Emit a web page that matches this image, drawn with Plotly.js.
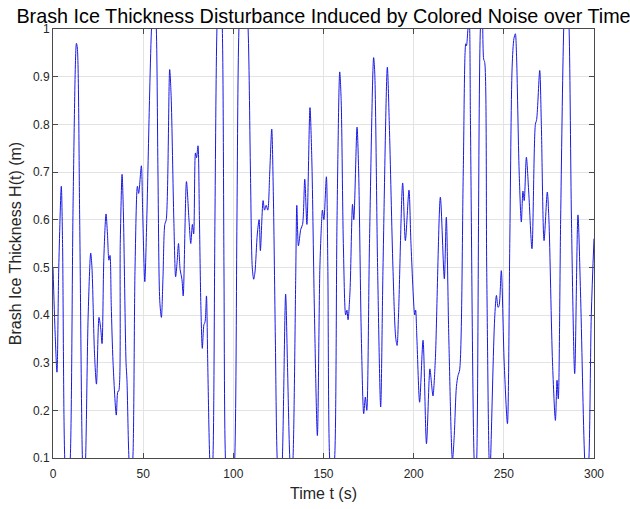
<!DOCTYPE html>
<html>
<head>
<meta charset="utf-8">
<script src="https://cdn.plot.ly/plotly-3.0.1.min.js"></script>
<style>
html,body{margin:0;padding:0;background:#fff;}
#chart{width:630px;height:509px;}
</style>
</head>
<body>
<div id="chart"></div>
<script>
// Time (s) and brash ice thickness H(t) (m)
const timeS = [0,1.2,2.2,3.2,4.6,5.3,6.5,8.0,9.6,11.2,13.0,13.5,14.8,16.3,17.2,18.1,19.5,20.9,21.6,23.0,24.1,25.5,26.5,27.2,28.2,29.4,30.2,31.0,31.6,32.3,33.3,35.1,36.0,36.4,37.3,38.3,39.0,40.5,41.0,42.1,43.2,44.3,45.5,46.8,47.5,49.0,49.7,50.9,52.0,53.5,54.6,56.0,57.3,58.2,59.2,60.1,61.0,62.0,62.8,64.7,65.5,67.0,68.0,68.8,69.6,70.5,71.5,72.2,74.0,75.4,76.4,77.3,78.0,79.0,79.6,80.4,81.2,82.0,82.8,83.7,84.3,85.1,85.8,86.9,87.8,88.7,89.8,90.9,92.4,93.9,94.8,95.6,98.2,100.8,102.0,103.1,105.6,108.2,109.5,110.5,111.3,112.0,113.3,114.3,115.0,116.5,117.3,118.2,119.1,120.2,121.3,122.2,123.3,124.3,125.8,127.2,129.0,130.0,131.3,132.2,133.1,134.6,135.2,136.1,137.4,138.4,139.6,140.8,142.5,143.5,145.0,146.6,148.0,149.0,149.4,150.2,151.6,152.4,153.4,154.8,156.2,157.5,159.0,159.8,161.0,162.3,163.0,163.6,164.7,166.1,166.8,168.6,169.5,171.0,172.3,173.2,174.0,175.5,177.8,178.4,180.0,181.7,183.0,185.4,186.5,188.5,190.0,190.8,191.6,193.9,195.4,197.4,198.5,200.6,201.1,201.8,203.3,205.2,207.1,209.0,209.9,210.7,212.0,214.8,217.0,218.1,219.5,221.5,222.5,223.7,224.6,225.5,227.5,228.9,229.3,230.1,230.8,231.5,233.5,234.3,235.0,237.0,238.0,238.8,239.4,240.5,241.8,242.3,242.7,244.9,245.9,246.8,247.4,248.6,250.2,252.0,253.3,254.6,255.6,256.4,257.0,258.5,259.7,260.6,261.3,262.5,263.8,265.6,267.5,268.2,269.9,270.8,272.3,274.1,275.0,277.0,278.6,279.5,280.2,281.5,283.2,284.7,286.2,287.5,289.3,291.1,292.5,294.8,296.0,297.2,298.5,300];
const thicknessM = [0.50,0.36,0.28,0.50,0.67,0.55,0.10,0.00,0.10,0.65,0.97,0.96,0.60,0.10,0.02,0.10,0.40,0.53,0.50,0.32,0.255,0.395,0.37,0.34,0.52,0.612,0.57,0.515,0.525,0.42,0.30,0.19,0.24,0.24,0.55,0.695,0.62,0.30,0.265,0.10,0.04,0.10,0.50,0.67,0.655,0.713,0.62,0.47,0.60,0.85,1.00,1.10,1.00,0.70,0.43,0.395,0.48,0.59,0.60,0.915,0.86,0.60,0.48,0.51,0.55,0.495,0.475,0.44,0.68,0.60,0.55,0.59,0.57,0.74,0.73,0.755,0.60,0.42,0.33,0.38,0.385,0.44,0.30,0.10,0.04,0.10,0.60,1.00,1.15,1.00,0.50,0.10,-0.10,0.10,0.60,1.00,1.20,1.00,0.70,0.50,0.475,0.49,0.57,0.60,0.535,0.64,0.62,0.63,0.62,0.70,0.79,0.65,0.35,0.10,0.00,0.10,0.444,0.30,0.10,0.05,0.10,0.48,0.63,0.545,0.58,0.59,0.685,0.59,0.835,0.73,0.40,0.147,0.50,0.60,0.62,0.60,0.69,0.50,0.10,0.04,0.10,0.60,0.91,0.85,0.55,0.40,0.41,0.39,0.45,0.632,0.60,0.794,0.70,0.35,0.193,0.228,0.20,0.55,0.94,0.91,0.50,0.207,0.50,0.92,0.80,0.50,0.354,0.336,0.40,0.677,0.556,0.662,0.55,0.40,0.41,0.35,0.217,0.347,0.13,0.287,0.256,0.23,0.305,0.647,0.476,0.605,0.35,0.095,0.147,0.25,0.273,0.285,0.70,0.969,0.965,1.00,1.02,0.80,0.10,0.05,0.10,1.00,1.05,0.937,0.93,0.50,0.10,0.06,0.10,0.392,0.441,0.416,0.42,0.493,0.30,0.172,0.55,0.92,0.98,0.99,0.95,0.70,0.595,0.66,0.64,0.731,0.658,0.539,0.80,0.81,0.913,0.80,0.556,0.658,0.60,0.30,0.179,0.263,0.224,0.60,1.00,1.15,1.00,0.60,0.277,0.61,0.45,0.10,0.03,0.10,0.40,0.56];
const xTicks = [0,50,100,150,200,250,300];
const yTicks = [0.1,0.2,0.3,0.4,0.5,0.6,0.7,0.8,0.9,1];
const yTickText = ['0.1','0.2','0.3','0.4','0.5','0.6','0.7','0.8','0.9','1'];

const FONT = 'Liberation Sans, Arial, Helvetica, sans-serif';
const trace = {
  x: timeS, y: thicknessM, type: 'scatter', mode: 'lines',
  line: {color: 'rgb(25,25,230)', width: 1, shape: 'spline', smoothing: 0.8},
  hoverinfo: 'skip'
};
const axisCommon = {
  showline: true, linecolor: '#4a4a4a', linewidth: 1, mirror: 'ticks',
  ticks: 'inside', ticklen: 5, tickcolor: '#4a4a4a', tickwidth: 1,
  showgrid: true, gridcolor: '#e3e3e3', gridwidth: 1, zeroline: false,
  tickfont: {family: FONT, size: 12, color: '#262626'}
};
const layout = {
  width: 630, height: 509,
  margin: {l: 53, r: 36, t: 28.5, b: 51},
  paper_bgcolor: '#fff', plot_bgcolor: '#fff',
  showlegend: false,
  title: {text: 'Brash Ice Thickness Disturbance Induced by Colored Noise over Time',
    font: {family: FONT, size: 19.8, color: '#000'},
    xref: 'paper', x: 0.5, xanchor: 'center', yref: 'container', y: 1 - 16/509, yanchor: 'middle'},
  xaxis: Object.assign({}, axisCommon, {
    range: [0, 300], tickvals: xTicks, ticktext: xTicks.map(String),
    ticklabelstandoff: 5,
    title: {text: 'Time t (s)', font: {family: FONT, size: 16, color: '#262626'}, standoff: 7}
  }),
  yaxis: Object.assign({}, axisCommon, {
    range: [0.1, 1], tickvals: yTicks, ticktext: yTickText,
    title: {text: 'Brash Ice Thickness H(t) (m)', font: {family: FONT, size: 16, color: '#262626'}, standoff: 7}
  })
};
Plotly.newPlot('chart', [trace], layout, {displayModeBar: false, staticPlot: true});
</script>
</body>
</html>
